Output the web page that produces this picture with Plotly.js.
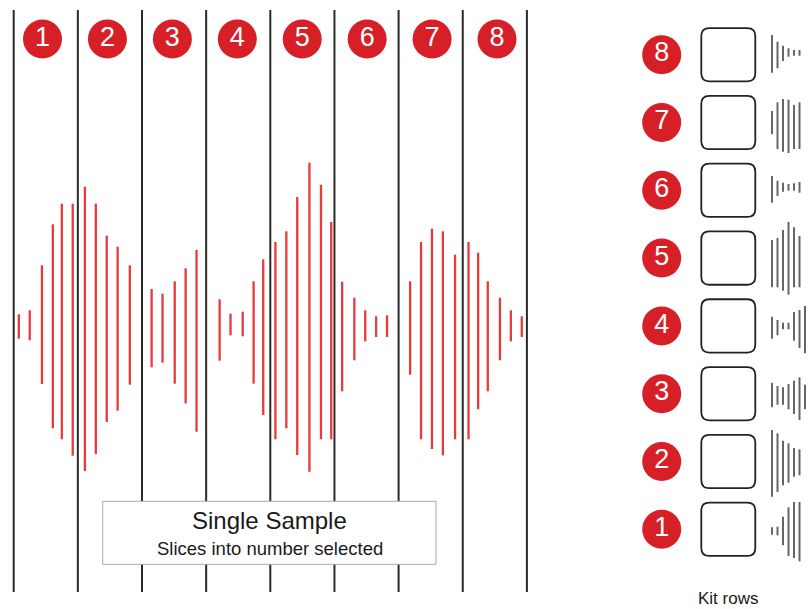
<!DOCTYPE html>
<html>
<head>
<meta charset="utf-8">
<script src="https://cdn.plot.ly/plotly-3.0.1.min.js"></script>
<style>html,body{margin:0;padding:0;background:#fff;}#chart{width:809px;height:609px;}</style>
</head>
<body>
<div id="chart"></div>
<script>
// ---- data ----
const sliceLabels = ['1','2','3','4','5','6','7','8'];
const sliceEdges = [0,1,2,3,4,5,6,7,8];
// waveform sample times (in slice units) and amplitudes above / below the centre line
const sampleTime = [0.08,0.25,0.44,0.61,0.75,0.92,1.11,1.28,1.45,1.62,1.81,
  2.15,2.32,2.51,2.68,2.85,3.21,3.38,3.57,3.74,3.89,4.08,4.25,4.42,4.61,4.79,4.95,
  5.12,5.31,5.48,5.65,5.82,6.18,6.35,6.52,6.69,6.88,7.09,7.24,7.39,7.58,7.75,7.92];
const ampUp = [11.7,15.7,60.7,101.7,122.3,122.3,139.3,122.3,90.3,79.3,60.7,
  37,32.3,44.7,57.7,76,26.7,12.3,14.3,44.7,66.7,84,94.7,129,163.3,141.3,104,
  44.3,28.3,15.7,9.7,10.7,44.7,84,97.3,94.7,71.3,84,73.3,44.7,28.3,15.7,9.7];
const ampDown = [12.7,14.3,58,102.3,113.3,129.7,145,128,96,84.7,58.7,
  41.3,36.7,57.7,77.3,105.7,34.7,9.3,10.3,57.7,89,113.3,102.3,129,145.7,113.3,113.3,
  65.3,34.3,15.3,11,11,48.7,113.3,123,129.3,113.3,113.3,83.3,65.3,34.3,15.3,11];
// kit rows and their miniature waveforms (amplitude above / below row centre)
const kitRows = [1,2,3,4,5,6,7,8];
const miniUp = [
  [2,2.6,12.6,22,27.3,27.3],
  [31.5,28.2,20.8,18.2,13.5,12.2],
  [11,7.7,6.4,9.7,13,16.4,9],
  [9.2,5.9,3.2,3.2,13.9,15.9,19.9],
  [18.1,20.1,28.1,36.1,30.8,22.1],
  [14.3,9.6,7.6,6.3,7,8.3],
  [11.5,20.2,23.5,22.8,17.5,20.2],
  [19.7,13,9,6.4,4.7,4.7]
];
const miniDown = [
  [5.4,6,16,26.7,28.7,32],
  [35.2,30.5,23.8,21.2,15.2,13.8],
  [13.6,11,11,15.6,20.3,26.3,15.6],
  [12.8,9.4,3.4,3.4,14.8,22.1,27.4],
  [29.2,29.2,32.6,36.6,29.2,29.2],
  [12.4,5.7,1.4,0.4,0.4,2.4],
  [11.8,26.5,29.2,30.5,26.5,26.5],
  [18,13.6,6.3,2,1,1]
];

// ---- styling / layout constants ----
const W = 809, H = 609;
const FONT = 'Liberation Sans, Arial, sans-serif';
const RED = '#d71f27', WAVE = '#e8393c', GREY = '#666666', DARK = '#2a2a2a';
const PX_PER_SLICE = 64.15, X0PX = 13.7;     // slice axis mapping
const CENTER_PX = 326;                         // waveform centre line
const ROW_PX = 67.8;                           // kit row spacing

// waveform bars
const wx = [], wy = [];
sampleTime.forEach((t, i) => { wx.push(t, t, null); wy.push(ampUp[i], -ampDown[i], null); });

// main slice circles
const circX = sliceLabels.map((_, i) => (42.5 + 64.93 * i - X0PX) / PX_PER_SLICE);
const circY = sliceLabels.map(() => CENTER_PX - 39);

// mini waveforms
const mx = [], my = [];
kitRows.forEach((r, ri) => {
  miniUp[ri].forEach((u, k) => {
    const x = 772 + 5.5 * k;
    mx.push(x, x, null);
    my.push(r + u / ROW_PX, r - miniDown[ri][k] / ROW_PX, null);
  });
});

const traces = [
  {type:'scatter', mode:'lines', x:wx, y:wy, xaxis:'x', yaxis:'y',
   line:{color:WAVE, width:2.3}, hoverinfo:'skip'},
  {type:'scatter', mode:'markers+text', x:circX, y:circY, xaxis:'x', yaxis:'y',
   text:sliceLabels, textposition:'middle center', cliponaxis:false,
   marker:{size:39, color:RED, line:{width:0}},
   textfont:{family:FONT, size:27, color:'#ffffff'}, hoverinfo:'skip'},
  {type:'scatter', mode:'lines', x:mx, y:my, xaxis:'x2', yaxis:'y2',
   line:{color:GREY, width:2}, hoverinfo:'skip'},
  {type:'scatter', mode:'markers+text', x:kitRows.map(() => 661.7), y:kitRows, xaxis:'x2', yaxis:'y2',
   text:kitRows.map(String), textposition:'middle center', cliponaxis:false,
   marker:{size:39, color:RED, line:{width:0}},
   textfont:{family:FONT, size:27, color:'#ffffff'}, hoverinfo:'skip'}
];

const shapes = [];
sliceEdges.forEach(e => shapes.push({type:'line', xref:'x', yref:'y', x0:e, x1:e,
  y0:CENTER_PX - 592, y1:CENTER_PX - 10, line:{color:DARK, width:2}, layer:'below'}));

function roundedRect(x0, x1, y0, y1, rx, ry) {
  return `M ${x0+rx},${y0} L ${x1-rx},${y0} Q ${x1},${y0} ${x1},${y0+ry} L ${x1},${y1-ry} Q ${x1},${y1} ${x1-rx},${y1} ` +
         `L ${x0+rx},${y1} Q ${x0},${y1} ${x0},${y1-ry} L ${x0},${y0+ry} Q ${x0},${y0} ${x0+rx},${y0} Z`;
}
kitRows.forEach(r => {
  const h = 26.65 / ROW_PX;
  shapes.push({type:'path', xref:'x2', yref:'y2',
    path: roundedRect(701.3, 755.3, r - h, r + h, 8, 8 / ROW_PX),
    line:{color:'#222222', width:1.8}, fillcolor:'rgba(255,255,255,0)', layer:'above'});
});
// caption box
shapes.push({type:'rect', xref:'paper', yref:'paper', x0:102.7/W, x1:436/W, y0:1-564.3/H, y1:1-501.3/H,
  fillcolor:'#ffffff', line:{color:'#a8a8a8', width:1}, layer:'above'});

const annotations = [
  {text:'Single Sample', xref:'paper', yref:'paper', x:269.5/W, y:1-520/H, showarrow:false,
   xanchor:'center', yanchor:'middle', font:{family:FONT, size:24, color:'#1a1a1a'}},
  {text:'Slices into number selected', xref:'paper', yref:'paper', x:269.5/W, y:1-548/H, showarrow:false,
   xanchor:'center', yanchor:'middle', font:{family:FONT, size:18.5, color:'#1a1a1a'}},
  {text:'Kit rows', xref:'paper', yref:'paper', x:728/W, y:0, showarrow:false,
   xanchor:'center', yanchor:'bottom', borderpad:0, font:{family:FONT, size:17, color:'#1a1a1a'}}
];

const hidden = {visible:false, showgrid:false, zeroline:false, showticklabels:false, fixedrange:true};
const layout = {
  width:W, height:H, margin:{l:0, r:0, t:0, b:0, pad:0},
  paper_bgcolor:'#ffffff', plot_bgcolor:'#ffffff', showlegend:false, hovermode:false,
  xaxis:Object.assign({domain:[0,1], range:[-X0PX/PX_PER_SLICE, (W - X0PX)/PX_PER_SLICE]}, hidden),
  yaxis:Object.assign({domain:[0,1], range:[CENTER_PX - H, CENTER_PX]}, hidden),
  xaxis2:Object.assign({domain:[0,1], range:[0, W], overlaying:'x', anchor:'y2'}, hidden),
  // y2: row r sits at 597.1 - 67.8 r px from the top
  yaxis2:Object.assign({domain:[0,1], range:[(597.1 - H) / ROW_PX, 597.1 / ROW_PX], overlaying:'y', anchor:'x2'}, hidden),
  shapes:shapes, annotations:annotations
};

Plotly.newPlot('chart', traces, layout, {staticPlot:true, displayModeBar:false});
</script>
</body>
</html>
